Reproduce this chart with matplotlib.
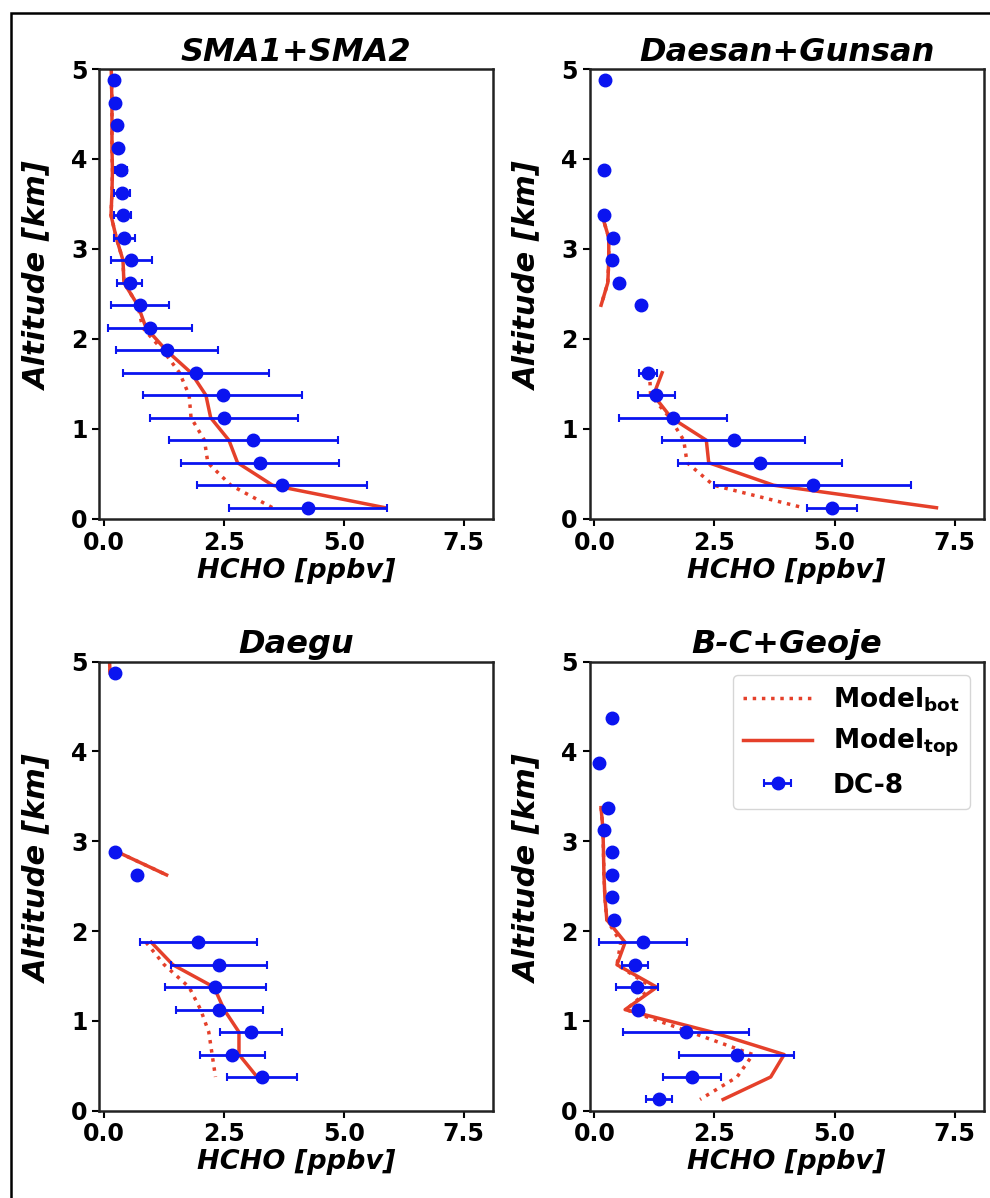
import numpy as np
import matplotlib
matplotlib.use("Agg")
import matplotlib.pyplot as plt
from matplotlib.patches import Rectangle

plt.rcParams['font.family'] = ['DejaVu Sans']
plt.rcParams['font.weight'] = 'bold'
plt.rcParams['mathtext.default'] = 'bf'

nan = np.nan

# Altitudes of the DC-8 bins and of the model levels [km]
alt_obs = [4.875, 4.625, 4.375, 4.125, 3.875, 3.625, 3.375, 3.125, 2.875, 2.625,
           2.375, 2.125, 1.875, 1.625, 1.375, 1.125, 0.875, 0.625, 0.375, 0.125]
alt_mod = [5.125, 4.875, 4.625, 4.375, 4.125, 3.875, 3.625, 3.375, 3.125, 2.875,
           2.625, 2.375, 2.125, 1.875, 1.625, 1.375, 1.125, 0.875, 0.625, 0.375, 0.125]

titles = ['SMA1+SMA2', 'Daesan+Gunsan', 'Daegu', 'B-C+Geoje']

# SMA1+SMA2
sma_obs = [0.20, 0.23, 0.27, 0.28, 0.35, 0.37, 0.38, 0.42, 0.56, 0.53,
           0.75, 0.96, 1.31, 1.92, 2.47, 2.50, 3.11, 3.25, 3.71, 4.25]
sma_err = [0.0, 0.02, 0.04, 0.05, 0.13, 0.16, 0.18, 0.22, 0.43, 0.26,
           0.61, 0.88, 1.06, 1.52, 1.66, 1.54, 1.77, 1.65, 1.77, 1.64]
sma_top = [0.14, 0.15, 0.16, 0.16, 0.16, 0.17, 0.16, 0.14, 0.25, 0.39, 0.41,
           0.70, 0.87, 1.29, 1.81, 2.12, 2.22, 2.60, 2.78, 3.51, 5.86]
sma_bot = [0.14, 0.15, 0.16, 0.16, 0.16, 0.17, 0.16, 0.14, 0.25, 0.39, 0.41,
           0.70, 0.80, 1.22, 1.57, 1.77, 1.81, 2.09, 2.16, 2.64, 3.51]

# Daesan+Gunsan
dae_obs = [0.23, nan, nan, nan, 0.21, nan, 0.21, 0.38, 0.37, 0.51,
           0.98, nan, nan, 1.11, 1.29, 1.64, 2.90, 3.45, 4.54, 4.94]
dae_err = [0.0, nan, nan, nan, 0.0, nan, 0.0, 0.0, 0.0, 0.0,
           0.0, nan, nan, 0.19, 0.39, 1.13, 1.49, 1.71, 2.06, 0.52]
dae_top = [nan, nan, nan, nan, nan, nan, nan, 0.16, 0.30, 0.30, 0.28,
           0.14, nan, nan, 1.41, 1.23, 1.60, 2.33, 2.38, 3.73, 7.12]
dae_bot = [nan, nan, nan, nan, nan, nan, nan, 0.16, 0.30, 0.30, 0.28,
           0.14, nan, nan, 1.15, 1.17, 1.57, 1.86, 1.93, 2.48, 4.35]

# Daegu
dgu_obs = [0.23, nan, nan, nan, nan, nan, nan, nan, 0.22, 0.68,
           nan, nan, 1.96, 2.39, 2.32, 2.40, 3.06, 2.67, 3.29, nan]
dgu_err = [0.0, nan, nan, nan, nan, nan, nan, nan, 0.0, 0.0,
           nan, nan, 1.22, 1.00, 1.05, 0.91, 0.65, 0.68, 0.74, nan]
dgu_top = [0.10, 0.12, nan, nan, nan, nan, nan, nan, nan, 0.30, 1.30,
           nan, nan, 0.98, 1.43, 2.29, 2.50, 2.81, 2.81, 3.19, nan]
dgu_bot = [0.10, 0.12, nan, nan, nan, nan, nan, nan, nan, 0.30, 1.30,
           nan, nan, 0.87, 1.25, 1.77, 2.01, 2.18, 2.25, 2.32, nan]

# B-C+Geoje
bcg_obs = [nan, nan, 0.37, nan, 0.09, nan, 0.28, 0.21, 0.37, 0.37,
           0.37, 0.40, 1.01, 0.85, 0.89, 0.90, 1.91, 2.96, 2.03, 1.35]
bcg_err = [nan, nan, 0.0, nan, 0.0, nan, 0.0, 0.0, 0.0, 0.0,
           0.0, 0.0, 0.92, 0.27, 0.43, 0.0, 1.31, 1.20, 0.60, 0.27]
bcg_top = [nan, nan, nan, nan, nan, nan, nan, 0.14, 0.18, 0.19, 0.20,
           0.22, 0.26, 0.64, 0.47, 1.30, 0.64, 2.45, 3.95, 3.67, 2.68]
bcg_bot = [nan, nan, nan, nan, nan, nan, nan, 0.14, 0.18, 0.19, 0.20,
           0.22, 0.26, 0.55, 0.47, 1.20, 0.66, 2.00, 3.30, 2.97, 2.20]

obs = [sma_obs, dae_obs, dgu_obs, bcg_obs]
errs = [sma_err, dae_err, dgu_err, bcg_err]
tops = [sma_top, dae_top, dgu_top, bcg_top]
bots = [sma_bot, dae_bot, dgu_bot, bcg_bot]

red = '#e5402a'
blue = '#0a14f0'

fig = plt.figure(figsize=(9.9, 11.98), dpi=100)

# axes positions [left, bottom, width, height] in figure fraction
pos = [[0.1005, 0.5668, 0.397, 0.3756],
       [0.5955, 0.5668, 0.398, 0.3756],
       [0.1005, 0.0729, 0.397, 0.3748],
       [0.5955, 0.0729, 0.398, 0.3748]]

for i in range(4):
    ax = fig.add_axes(pos[i])
    ax.plot(bots[i], alt_mod, ':', color=red, lw=2.5, label='Model$_{bot}$')
    ax.plot(tops[i], alt_mod, '-', color=red, lw=2.5, label='Model$_{top}$')
    ax.errorbar(obs[i], alt_obs, xerr=errs[i], fmt='o', color=blue, ms=9,
                elinewidth=2, capsize=3, capthick=1.5, label='DC-8')
    ax.set_xlim(-0.1, 8.1)
    ax.set_ylim(0, 5)
    ax.set_xticks([0.0, 2.5, 5.0, 7.5])
    ax.set_xticklabels(['0.0', '2.5', '5.0', '7.5'])
    ax.set_yticks([0, 1, 2, 3, 4, 5])
    ax.tick_params(labelsize=17, width=1.5, length=5)
    for s in ax.spines.values():
        s.set_linewidth(1.8)
        s.set_color('#222222')
    ax.set_title(titles[i], fontsize=23, fontweight='bold', style='italic')
    ax.set_xlabel('HCHO [ppbv]', fontsize=19.5, fontweight='bold', style='italic',
                  labelpad=2)
    ax.set_ylabel('Altitude [km]', fontsize=22, fontweight='bold', style='italic')
    ax.yaxis.set_label_coords(-0.12, 0.54)
    if i == 3:
        ax.legend(loc='upper right', fontsize=19, handlelength=2.6)

# frame around the figure
fig.patches.append(Rectangle((11 / 990, -0.1), 1.2, 1.1 - 13 / 1198,
                             transform=fig.transFigure, fill=False,
                             edgecolor='black', lw=1.8))

plt.savefig('out.png', dpi=100)
